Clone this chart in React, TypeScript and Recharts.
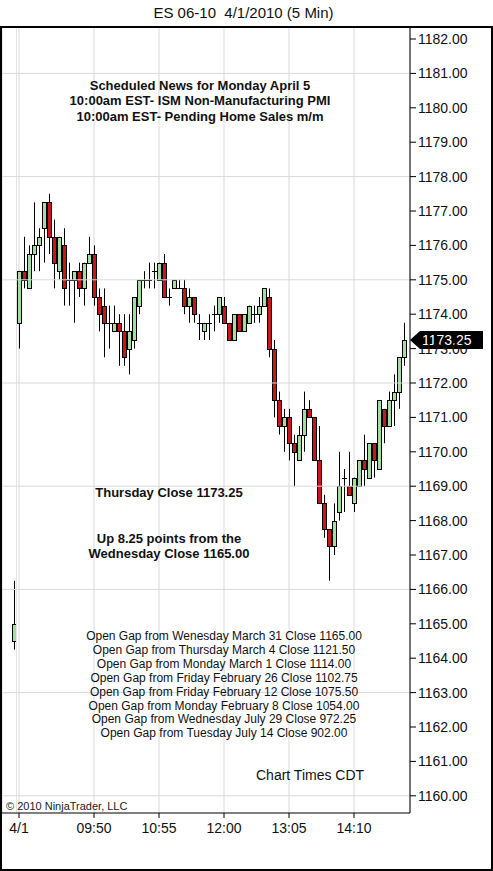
import { ComposedChart, Bar, XAxis, YAxis, CartesianGrid, ReferenceLine } from 'recharts';

// 5 min bars, first one is the last bar of 3/31, then 4/1 from 08:35
const opens = [
    1164.5, 1173.75, 1175.25, 1174.75, 1175.75, 1176.0, 1176.5, 1177.25, 1176.25, 1175.25,
    1176.0, 1175.0, 1175.0, 1175.25, 1174.75, 1175.5, 1175.75, 1174.5, 1174.25, 1173.75,
    1173.5, 1173.75, 1173.5, 1173.0, 1173.25, 1174.25, 1175.0, 1175.0, 1175.25, 1175.0,
    1175.5, 1174.5, 1174.75, 1174.75, 1174.75, 1174.25, 1174.5, 1173.75, 1173.5, 1173.75,
    1174.0, 1174.0, 1174.25, 1173.75, 1173.25, 1174.0, 1173.5, 1173.75, 1174.0, 1174.0,
    1174.25, 1174.5, 1173.0, 1171.5, 1170.75, 1171.0, 1170.25, 1169.75, 1170.5, 1171.25,
    1171.0, 1169.75, 1168.5, 1167.75, 1167.25, 1168.25, 1169.25, 1169.0, 1168.5, 1169.0,
    1169.75, 1169.25, 1170.25, 1169.5, 1171.25, 1170.75, 1171.5, 1171.75, 1172.75
];
const highs = [
    1166.25, 1175.25, 1176.25, 1176.0, 1177.25, 1176.5, 1177.25, 1177.5, 1176.75, 1176.25,
    1176.5, 1175.5, 1175.25, 1175.5, 1175.5, 1176.25, 1176.0, 1174.75, 1174.75, 1174.25,
    1174.25, 1174.0, 1174.0, 1174.0, 1174.5, 1175.0, 1175.25, 1175.5, 1175.5, 1175.5,
    1175.75, 1174.75, 1175.0, 1175.0, 1175.0, 1174.75, 1174.5, 1174.0, 1173.75, 1174.0,
    1174.25, 1174.5, 1174.5, 1173.75, 1174.0, 1174.0, 1174.0, 1174.25, 1174.25, 1174.5,
    1174.75, 1174.75, 1173.25, 1171.75, 1171.25, 1171.25, 1170.5, 1170.75, 1171.75, 1171.5,
    1171.0, 1170.75, 1168.75, 1167.75, 1168.5, 1170.0, 1169.5, 1170.0, 1169.25, 1169.75,
    1170.5, 1170.25, 1170.25, 1171.5, 1171.25, 1171.75, 1172.25, 1172.75, 1173.75
];
const lows = [
    1164.25, 1173.0, 1174.75, 1174.75, 1175.25, 1175.25, 1175.5, 1175.75, 1174.75, 1175.0,
    1174.25, 1174.25, 1173.75, 1174.5, 1174.25, 1175.5, 1174.25, 1173.5, 1172.75, 1173.0,
    1173.5, 1172.5, 1172.5, 1172.25, 1173.0, 1174.0, 1174.75, 1174.75, 1174.75, 1175.0,
    1174.5, 1174.25, 1174.75, 1174.75, 1174.0, 1173.75, 1173.75, 1173.25, 1173.25, 1173.25,
    1173.5, 1173.75, 1173.75, 1173.25, 1173.25, 1173.5, 1173.5, 1173.75, 1173.75, 1173.75,
    1174.25, 1172.75, 1171.0, 1170.5, 1170.0, 1169.75, 1169.0, 1169.75, 1170.0, 1171.0,
    1169.75, 1168.5, 1167.5, 1166.25, 1167.0, 1168.0, 1168.25, 1168.75, 1168.25, 1169.0,
    1169.0, 1169.25, 1169.25, 1169.5, 1170.25, 1170.75, 1170.75, 1171.25, 1172.5
];
const closes = [
    1165.0, 1175.25, 1175.0, 1175.75, 1176.0, 1176.25, 1177.25, 1176.25, 1175.5, 1176.25,
    1174.75, 1175.0, 1175.25, 1174.75, 1175.5, 1175.75, 1174.5, 1174.0, 1173.75, 1173.75,
    1173.75, 1173.5, 1172.75, 1173.5, 1174.5, 1175.0, 1175.0, 1175.0, 1175.25, 1175.5,
    1174.5, 1174.5, 1175.0, 1174.75, 1174.25, 1174.5, 1174.0, 1173.75, 1173.75, 1173.75,
    1174.0, 1174.5, 1173.75, 1173.25, 1174.0, 1173.5, 1174.0, 1174.25, 1174.0, 1174.25,
    1174.75, 1173.0, 1171.5, 1170.75, 1171.0, 1170.25, 1170.0, 1170.5, 1171.25, 1171.0,
    1169.75, 1168.5, 1167.75, 1167.25, 1168.0, 1169.0, 1169.25, 1168.75, 1169.25, 1169.75,
    1169.5, 1170.25, 1169.75, 1171.5, 1170.75, 1171.5, 1171.75, 1172.75, 1173.25
];

const xTickIdx = [0, 15, 28, 41, 54, 67];
const xTickLabels = ['4/1', '09:50', '10:55', '12:00', '13:05', '14:10'];
const yTicks = [
    1160, 1161, 1162, 1163, 1164, 1165, 1166, 1167, 1168, 1169, 1170,
    1171, 1172, 1173, 1174, 1175, 1176, 1177, 1178, 1179, 1180, 1181, 1182
];
const gridPrices = [1160, 1163, 1166, 1169, 1172, 1175, 1178, 1181];

const newsLines = [
    'Scheduled News for Monday April 5',
    '10:00am EST- ISM Non-Manufacturing PMI',
    '10:00am EST- Pending Home Sales m/m'
];
const gapLines = [
    'Open Gap from Wenesday March 31 Close 1165.00',
    'Open Gap from Thursday March 4 Close 1121.50',
    'Open Gap from Monday March 1 Close 1114.00',
    'Open Gap from Friday February 26 Close 1102.75',
    'Open Gap from Friday February 12 Close 1075.50',
    'Open Gap from Monday February 8 Close 1054.00',
    'Open Gap from Wednesday July 29 Close 972.25',
    'Open Gap from Tuesday July 14 Close 902.00'
];

const FONT = '"Liberation Sans", Arial, sans-serif';
const UP = '#a6dca2';
const DOWN = '#c8161d';

const data = opens.map((o, i) => ({
    idx: i - 1,
    open: o,
    high: highs[i],
    low: lows[i],
    close: closes[i],
    range: [lows[i], highs[i]]
}));

const lastClose = closes[closes.length - 1];

function Candle(props: any) {
    const { x, y, width, height, payload } = props;
    const { open, close, high, low } = payload;
    const top = Math.min(y, y + height);
    const k = high > low ? Math.abs(height) / (high - low) : 0;
    const yOf = (v: number) => top + (high - v) * k;
    const cx = Math.round(x + width / 2);
    const bodyTop = Math.round(yOf(Math.max(open, close)));
    const bodyBot = Math.round(yOf(Math.min(open, close)));
    return (
        <g>
            <line x1={cx + 0.5} x2={cx + 0.5} y1={yOf(high)} y2={yOf(low)} stroke="#000" strokeWidth={1} />
            {open === close ? (
                <line x1={cx - 2} x2={cx + 3} y1={bodyTop + 0.5} y2={bodyTop + 0.5} stroke="#000" strokeWidth={1} />
            ) : (
                <rect
                    x={cx - 1.5}
                    y={bodyTop + 0.5}
                    width={4}
                    height={bodyBot - bodyTop}
                    fill={close > open ? UP : DOWN}
                    stroke="#000"
                    strokeWidth={1}
                />
            )}
        </g>
    );
}

function PriceTag(props: any) {
    const vb = props.viewBox || {};
    const left = vb.x + vb.width;
    const y = vb.y;
    return (
        <g>
            <polygon
                points={`${left},${y} ${left + 10},${y - 9} ${left + 73},${y - 9} ${left + 73},${y + 9} ${left + 10},${y + 9}`}
                fill="#000"
            />
            <text x={left + 12} y={y + 5} fill="#fff" fontSize={14} fontFamily={FONT}>
                {lastClose.toFixed(2)}
            </text>
        </g>
    );
}

const abs = (extra: React.CSSProperties): React.CSSProperties => ({
    position: 'absolute',
    color: '#111',
    whiteSpace: 'nowrap',
    ...extra
});

export default function App() {
    return (
        <div style={{ position: 'relative', width: 493, height: 871, background: '#fff', fontFamily: FONT, overflow: 'hidden' }}>
            <style>{'body{margin:0}'}</style>
            <ComposedChart
                width={493}
                height={871}
                data={data}
                margin={{ top: 28, right: 0, bottom: 0, left: 2 }}
            >
                <CartesianGrid vertical horizontal={false} stroke="#d9d9d9" />
                {gridPrices.map((p) => (
                    <ReferenceLine key={p} y={p} stroke="#d9d9d9" />
                ))}
                <ReferenceLine x={-0.5} stroke="#e2e2e2" />
                <XAxis
                    dataKey="idx"
                    type="number"
                    domain={[-3.4, 78.2]}
                    ticks={xTickIdx}
                    interval={0}
                    tickFormatter={(v) => xTickLabels[xTickIdx.indexOf(v)]}
                    height={58}
                    axisLine={{ stroke: '#000' }}
                    tickLine={{ stroke: '#000' }}
                    tickSize={5}
                    tickMargin={5}
                    tick={{ fill: '#111', fontSize: 14, fontFamily: FONT }}
                />
                <YAxis
                    orientation="right"
                    width={83}
                    domain={[1159.5, 1182.32]}
                    ticks={yTicks}
                    interval={0}
                    allowDataOverflow
                    tickFormatter={(v) => v.toFixed(2)}
                    axisLine={{ stroke: '#000' }}
                    tickLine={{ stroke: '#000' }}
                    tickSize={6}
                    tickMargin={2}
                    tick={{ fill: '#111', fontSize: 14, fontFamily: FONT }}
                />
                <Bar dataKey="range" barSize={5} shape={<Candle />} isAnimationActive={false} />
                <ReferenceLine y={lastClose} stroke="none" label={(p: any) => <PriceTag viewBox={p.viewBox} />} />
            </ComposedChart>

            <div style={abs({ left: 0, width: 487, top: 4, fontSize: 15, lineHeight: '18px', textAlign: 'center' })}>
                ES 06-10&nbsp; 4/1/2010 (5 Min)
            </div>

            <div style={abs({ left: 0, width: 400, top: 78, fontSize: 13, lineHeight: '15.3px', fontWeight: 'bold', textAlign: 'center' })}>
                {newsLines.map((l) => (
                    <div key={l}>{l}</div>
                ))}
            </div>

            <div style={abs({ left: 19, width: 300, top: 485, fontSize: 13, lineHeight: '15px', fontWeight: 'bold', textAlign: 'center' })}>
                Thursday Close {lastClose.toFixed(2)}
            </div>
            <div style={abs({ left: 19, width: 300, top: 531, fontSize: 13, lineHeight: '15px', fontWeight: 'bold', textAlign: 'center' })}>
                <div>Up 8.25 points from the</div>
                <div>Wednesday Close 1165.00</div>
            </div>

            <div style={abs({ left: 74, width: 300, top: 630, fontSize: 12, lineHeight: '13.9px', textAlign: 'center' })}>
                {gapLines.map((l) => (
                    <div key={l}>{l}</div>
                ))}
            </div>

            <div style={abs({ left: 256, top: 767, fontSize: 14, lineHeight: '17px' })}>Chart Times CDT</div>
            <div style={abs({ left: 6, top: 799, fontSize: 11, lineHeight: '14px', color: '#222' })}>© 2010 NinjaTrader, LLC</div>

            <div
                style={{
                    position: 'absolute',
                    left: 0,
                    top: 26,
                    width: 493,
                    height: 845,
                    border: '2px solid #000',
                    boxSizing: 'border-box',
                    pointerEvents: 'none'
                }}
            />
        </div>
    );
}
